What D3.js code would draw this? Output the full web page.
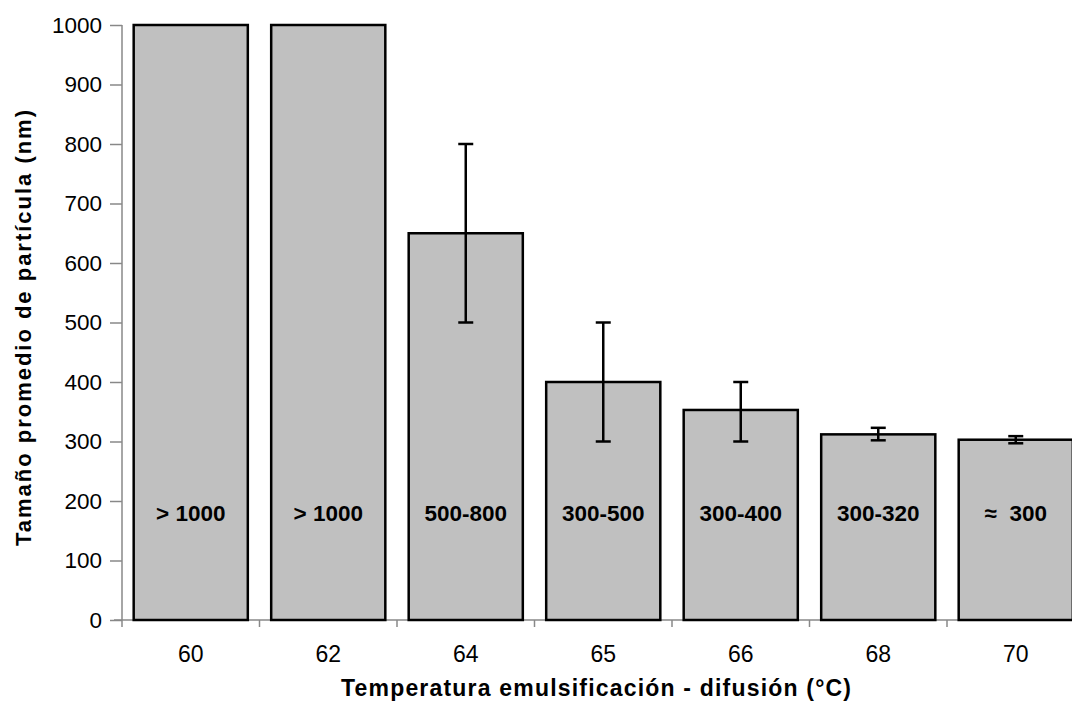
<!DOCTYPE html>
<html>
  <head>
    <meta charset="utf-8">
    <title>Tamaño de partícula</title>
    <script src="https://cdn.jsdelivr.net/npm/d3@7/dist/d3.min.js"></script>
    <style>
      body { margin: 0; background: #fff; }
      svg { display: block; font-family: "Liberation Sans", Arial, sans-serif; }
    </style>
  </head>
  <body>
    <svg id="chart"></svg>
    <script>
    // data
    var temps = ["60", "62", "64", "65", "66", "68", "70"]
    var sizes = [1000, 1000, 650, 400, 353, 312, 303]
    var errLow = [null, null, 500, 300, 300, 302, 297]
    var errHigh = [null, null, 800, 500, 400, 323, 309]
    var barLabels = ["> 1000", "> 1000", "500-800", "300-500", "300-400", "300-320", "≈  300"]
    var yTicks = [0, 100, 200, 300, 400, 500, 600, 700, 800, 900, 1000]

    var width = 1072
    var height = 710
    var margin = {top: 25, left: 122, bottom: 90}
    var plotBottom = height - margin.bottom   // 620

    var rows = temps.map(function(t, i) {
      return {t: t, v: sizes[i], lo: errLow[i], hi: errHigh[i], label: barLabels[i]}
    })

    var svg = d3.select("#chart")
      .attr("width", width)
      .attr("height", height)

    // band is 137.5px per category, axis runs past the right edge like the original
    var x = d3.scaleBand()
      .domain(temps)
      .range([margin.left, margin.left + 7 * 137.5])
      .paddingInner(0.17)
      .paddingOuter(0.085)

    var y = d3.scaleLinear()
      .domain([0, 1000])
      .range([plotBottom, margin.top])

    // y axis
    var yAxis = svg.append("g")
      .attr("transform", "translate(" + margin.left + ",0)")
      .call(d3.axisLeft(y).tickValues(yTicks).tickFormat(d3.format("d")).tickSize(12).tickPadding(8))
    yAxis.selectAll("path, line").attr("stroke", "#888").attr("stroke-width", 1.5)
    yAxis.select(".domain").attr("d", "M0," + y(1000) + "V" + y(0))
    yAxis.selectAll("text")
      .attr("font-size", 22.5)
      .attr("fill", "#000")
      .attr("font-family", "Liberation Sans, Arial, sans-serif")

    // x axis: line + ticks at category boundaries
    var step = x.step()
    var x0 = margin.left
    svg.append("line")
      .attr("x1", x0 - 8).attr("x2", x0 + step * temps.length)
      .attr("y1", plotBottom).attr("y2", plotBottom)
      .attr("stroke", "#888").attr("stroke-width", 1.5)

    svg.selectAll(".xtick")
      .data(d3.range(temps.length + 1))
      .enter().append("line")
      .attr("class", "xtick")
      .attr("x1", function(i) { return x0 + i * step })
      .attr("x2", function(i) { return x0 + i * step })
      .attr("y1", plotBottom)
      .attr("y2", plotBottom + 7)
      .attr("stroke", "#888").attr("stroke-width", 1.5)

    svg.selectAll(".xlabel")
      .data(temps)
      .enter().append("text")
      .attr("class", "xlabel")
      .attr("x", function(d) { return x(d) + x.bandwidth() / 2 })
      .attr("y", 662)
      .attr("text-anchor", "middle")
      .attr("font-size", 23)
      .text(function(d) { return d })

    // bars
    svg.selectAll(".bar")
      .data(rows)
      .enter().append("rect")
      .attr("class", "bar")
      .attr("x", function(d) { return x(d.t) })
      .attr("width", x.bandwidth())
      .attr("y", function(d) { return y(d.v) })
      .attr("height", function(d) { return y(0) - y(d.v) })
      .attr("fill", "#c0c0c0")
      .attr("stroke", "#000")
      .attr("stroke-width", 2.5)

    // error bars
    var withErr = rows.filter(function(d) { return d.lo != null })
    var errG = svg.selectAll(".err")
      .data(withErr)
      .enter().append("g")
      .attr("class", "err")
      .attr("stroke", "#000")
      .attr("stroke-width", 2.5)
    errG.append("line")
      .attr("x1", function(d) { return x(d.t) + x.bandwidth() / 2 })
      .attr("x2", function(d) { return x(d.t) + x.bandwidth() / 2 })
      .attr("y1", function(d) { return y(d.lo) })
      .attr("y2", function(d) { return y(d.hi) })
    ;["lo", "hi"].forEach(function(k) {
      errG.append("line")
        .attr("x1", function(d) { return x(d.t) + x.bandwidth() / 2 - 7.5 })
        .attr("x2", function(d) { return x(d.t) + x.bandwidth() / 2 + 7.5 })
        .attr("y1", function(d) { return y(d[k]) })
        .attr("y2", function(d) { return y(d[k]) })
    })

    // labels inside bars
    svg.selectAll(".blabel")
      .data(rows)
      .enter().append("text")
      .attr("class", "blabel")
      .attr("x", function(d) { return x(d.t) + x.bandwidth() / 2 })
      .attr("y", y(166))
      .attr("text-anchor", "middle")
      .attr("font-size", 22.5)
      .attr("font-weight", "bold")
      .style("white-space", "pre")
      .text(function(d) { return d.label })

    // axis titles
    svg.append("text")
      .attr("transform", "translate(31," + 328 + ") rotate(-90)")
      .attr("text-anchor", "middle")
      .attr("font-size", 22)
      .attr("font-weight", "bold")
      .attr("textLength", 436)
      .attr("lengthAdjust", "spacing")
      .text("Tamaño promedio de partícula (nm)")

    svg.append("text")
      .attr("x", 596)
      .attr("y", 696)
      .attr("text-anchor", "middle")
      .attr("font-size", 23)
      .attr("font-weight", "bold")
      .attr("textLength", 510)
      .attr("lengthAdjust", "spacing")
      .text("Temperatura emulsificación - difusión (°C)")
    </script>
  </body>
</html>
